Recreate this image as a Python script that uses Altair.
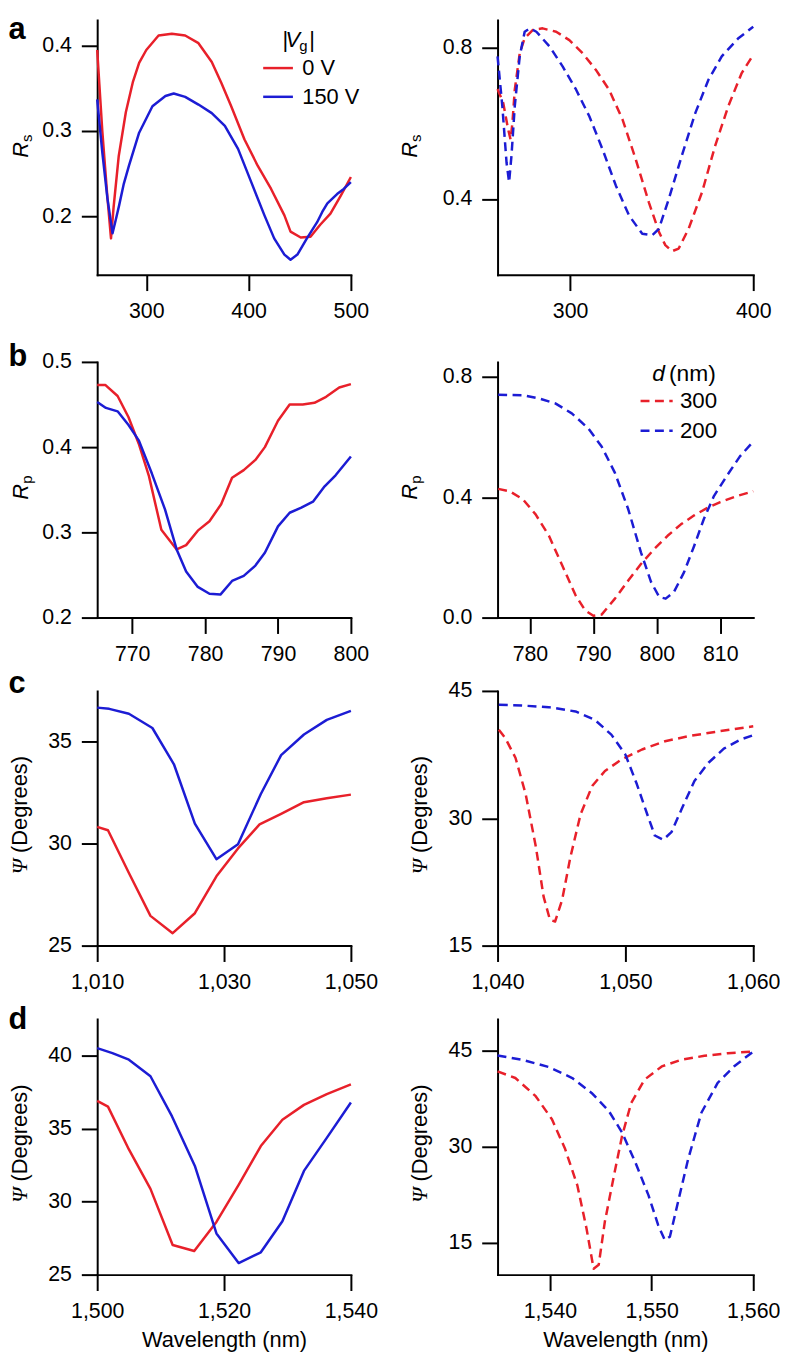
import altair as alt
import pandas as pd

RED = "#e8202a"
BLUE = "#1c1cd4"
SANS = "Liberation Sans"
SERIF = "Liberation Serif"

# ---------------- data ----------------
# a (left): measured R_s, |Vg| = 0 V and 150 V
a_exp_0_x = [252, 257, 262, 265.5, 268, 273, 280, 287, 293, 300, 312, 325, 338, 351, 364, 373.5, 383, 396, 409, 422, 435, 441, 451, 460.5, 470, 480, 490, 500]
a_exp_0_y = [0.395, 0.300, 0.222, 0.174, 0.210, 0.270, 0.322, 0.358, 0.380, 0.395, 0.412, 0.414, 0.412, 0.403, 0.381, 0.356, 0.329, 0.290, 0.259, 0.232, 0.201, 0.182, 0.175, 0.176, 0.190, 0.203, 0.224, 0.246]
a_exp_150_x = [252, 257, 262, 267, 270, 273.5, 278, 283, 293, 306, 318.7, 326.8, 338, 351, 364, 376.8, 389.7, 402.6, 415.5, 425, 435, 441, 447.7, 457, 467, 472, 477, 486.5, 493, 500]
a_exp_150_y = [0.337, 0.275, 0.221, 0.180, 0.195, 0.213, 0.238, 0.259, 0.298, 0.329, 0.341, 0.344, 0.340, 0.331, 0.321, 0.306, 0.279, 0.240, 0.201, 0.174, 0.155, 0.149, 0.155, 0.174, 0.193, 0.205, 0.215, 0.226, 0.232, 0.240]
# a (right): simulated R_s, d = 300 nm and 200 nm
a_sim_300_x = [260.4, 263.5, 266.2, 267.5, 268.5, 269.8, 272.5, 275.2, 279.7, 285, 292.4, 299.6, 306.9, 314, 321.3, 328.6, 335.8, 343, 348.5, 352, 355.7, 359.3, 364.7, 372, 379.2, 386.4, 393.7, 400]
a_sim_300_y = [0.690, 0.653, 0.583, 0.557, 0.600, 0.688, 0.784, 0.824, 0.846, 0.850, 0.841, 0.819, 0.784, 0.741, 0.688, 0.610, 0.505, 0.391, 0.313, 0.278, 0.262, 0.269, 0.321, 0.417, 0.540, 0.645, 0.732, 0.780]
a_sim_200_x = [260.4, 263, 265.3, 266.7, 268, 269.8, 272.5, 275.2, 278, 281.6, 288.8, 296, 303.3, 310.5, 317.7, 325, 332.2, 339.4, 344.8, 348.5, 353.9, 361, 368.4, 375.6, 382.8, 391.9, 400]
a_sim_200_y = [0.776, 0.645, 0.496, 0.444, 0.514, 0.645, 0.776, 0.841, 0.850, 0.841, 0.802, 0.749, 0.688, 0.618, 0.531, 0.435, 0.356, 0.308, 0.304, 0.321, 0.400, 0.514, 0.627, 0.715, 0.776, 0.824, 0.854]

# b (left): measured R_p
b_exp_0_x = [765.2, 766.3, 768, 769.5, 770.9, 772.3, 774, 776.1, 777.4, 779, 780.6, 782.2, 783.7, 785.3, 786.9, 788.2, 790, 791.6, 793.4, 795, 796.6, 798.4, 800]
b_exp_0_y = [0.473, 0.473, 0.460, 0.435, 0.404, 0.366, 0.303, 0.280, 0.285, 0.302, 0.313, 0.333, 0.364, 0.373, 0.385, 0.400, 0.431, 0.450, 0.450, 0.452, 0.459, 0.470, 0.474]
b_exp_150_x = [765.2, 766.4, 768, 769.5, 770.9, 772.7, 774.5, 776.1, 777.4, 779, 780.6, 782.1, 783.7, 785.3, 786.9, 788.2, 790, 791.6, 793.2, 794.8, 796.4, 797.9, 800]
b_exp_150_y = [0.453, 0.446, 0.442, 0.426, 0.408, 0.369, 0.327, 0.280, 0.254, 0.236, 0.228, 0.227, 0.243, 0.249, 0.261, 0.276, 0.307, 0.323, 0.329, 0.336, 0.354, 0.367, 0.389]
# b (right): simulated R_p
b_sim_300_x = [775, 776.8, 778.9, 780.9, 783, 785.1, 787.2, 788.7, 790, 791.3, 793.4, 795.5, 797.5, 799.6, 801.7, 803.8, 805.9, 808, 810, 812.6, 815.2]
b_sim_300_y = [0.428, 0.420, 0.393, 0.343, 0.272, 0.173, 0.074, 0.024, 0.006, 0.010, 0.063, 0.123, 0.178, 0.228, 0.272, 0.310, 0.340, 0.365, 0.384, 0.404, 0.420]
b_sim_200_x = [775, 778.9, 781.5, 784, 786.6, 789.2, 791.3, 793.4, 795.5, 797.5, 799.1, 800.4, 801.4, 802.7, 804.3, 805.9, 807.4, 809, 811, 813.1, 815.2]
b_sim_200_y = [0.741, 0.739, 0.728, 0.712, 0.679, 0.629, 0.569, 0.481, 0.360, 0.217, 0.118, 0.068, 0.063, 0.085, 0.151, 0.239, 0.327, 0.404, 0.470, 0.536, 0.585]

# c (left): measured Psi
c_exp_0_x = [1010, 1011.7, 1015, 1018.4, 1021.9, 1025.4, 1028.8, 1032.2, 1035.6, 1039, 1042.6, 1046.2, 1050]
c_exp_0_y = [30.83, 30.66, 28.56, 26.46, 25.61, 26.59, 28.40, 29.77, 30.95, 31.47, 32.04, 32.23, 32.41]
c_exp_150_x = [1010, 1011.9, 1015, 1018.7, 1022.1, 1025.4, 1028.8, 1032.2, 1035.8, 1039, 1042.6, 1046.2, 1050]
c_exp_150_y = [36.68, 36.62, 36.38, 35.68, 33.90, 30.99, 29.24, 29.98, 32.44, 34.35, 35.36, 36.08, 36.52]
# c (right): simulated Psi
c_sim_300_x = [1040.1, 1040.6, 1041.4, 1042.2, 1043, 1043.6, 1044.1, 1044.5, 1045.05, 1045.7, 1046.5, 1047.4, 1048.4, 1049.7, 1051.3, 1053.1, 1054.9, 1057, 1060]
c_sim_300_y = [40.44, 39.46, 37.13, 32.84, 26.61, 20.77, 18.04, 17.84, 20.38, 25.44, 30.50, 33.80, 35.57, 36.93, 38.10, 39.07, 39.66, 40.17, 40.83]
c_sim_200_x = [1040.1, 1041.9, 1044, 1046.1, 1047.6, 1048.9, 1050, 1050.9, 1051.7, 1052.3, 1052.95, 1053.6, 1054.4, 1055.4, 1056.5, 1057.7, 1059, 1060]
c_sim_200_y = [43.36, 43.28, 43.09, 42.58, 41.60, 39.85, 37.50, 34.00, 30.50, 27.97, 27.47, 28.36, 31.09, 34.40, 36.54, 38.20, 39.27, 39.78]

# d (left): measured Psi
d_exp_0_x = [1500, 1501.7, 1505, 1508.4, 1511.9, 1515.3, 1518.8, 1522.3, 1525.8, 1529.2, 1532.6, 1536.2, 1540]
d_exp_0_y = [36.89, 36.50, 33.57, 30.87, 27.03, 26.62, 28.61, 31.14, 33.80, 35.60, 36.62, 37.36, 38.02]
d_exp_150_x = [1500, 1502.4, 1505, 1508.4, 1511.8, 1515.4, 1518.8, 1522.3, 1525.8, 1529.2, 1532.6, 1536.2, 1540]
d_exp_150_y = [40.50, 40.16, 39.71, 38.58, 35.83, 32.44, 27.82, 25.79, 26.53, 28.65, 32.10, 34.36, 36.78]
# d (right): simulated Psi
d_sim_300_x = [1534.85, 1536.6, 1538.6, 1540.2, 1541.5, 1542.7, 1543.6, 1544.3, 1544.8, 1545.4, 1546.3, 1547.1, 1548, 1549.3, 1551, 1552.9, 1555.2, 1557.5, 1560]
d_sim_300_y = [41.80, 40.76, 37.92, 34.30, 29.64, 23.95, 17.22, 10.91, 11.53, 18.26, 25.50, 31.71, 36.88, 40.50, 42.57, 43.60, 44.23, 44.64, 44.90]
d_sim_200_x = [1534.85, 1537.3, 1539.9, 1542.2, 1544.1, 1545.8, 1547.1, 1548.4, 1549.7, 1550.65, 1551.3, 1551.8, 1552.6, 1553.6, 1554.9, 1556.5, 1558.1, 1560]
d_sim_200_y = [44.28, 43.60, 42.47, 40.76, 38.43, 35.59, 32.23, 27.57, 22.40, 17.74, 15.41, 15.93, 21.36, 28.09, 35.33, 39.99, 42.57, 44.90]

EXP_NAMES = ["0 V", "150 V"]
SIM_NAMES = ["300", "200"]


def frame(x1, y1, x2, y2, names):
    return pd.DataFrame({
        "wl": list(x1) + list(x2),
        "val": list(y1) + list(y2),
        "series": [names[0]] * len(x1) + [names[1]] * len(x2),
    })


ONE = pd.DataFrame({"k": [0]})


def txt(s, x, y, size=22, font=SANS, style="normal", weight="normal",
        angle=0, align="left", baseline="alphabetic"):
    kw = dict(text=s, fontSize=size, font=font, fontStyle=style,
              fontWeight=weight, align=align, baseline=baseline, color="black")
    if angle:
        kw["angle"] = angle
    return alt.Chart(ONE).mark_text(**kw).encode(x=alt.value(x), y=alt.value(y))


def r_title(sub, x, top):
    return [txt("R", x, top + 139, style="italic", angle=270),
            txt(sub, x + 4, top + 123, size=15, angle=270)]


def psi_title(x, h, top=0):
    mid = top + h / 2
    return [txt("(Degrees)", x, mid + 35, angle=270),
            txt("Ψ", x, mid + 41, font=SERIF, style="italic", angle=270, align="right")]


def letter(s, y):
    return txt(s, -89.5, y, size=31, weight="bold")


def panel(df, names, sim, xdom, ydom, xticks, yticks, yfmt, xfmt, w, h,
          top=0, legend=None, xtitle=False, overlays=()):
    mark = dict(strokeWidth=2.5, strokeJoin="round")
    if sim:
        mark["strokeDash"] = [9, 5.5]
    yscale = dict(domain=ydom, nice=False, zero=False)
    if top:
        yscale["range"] = [h + top, top]
    xaxis = alt.Axis(values=xticks, format=xfmt,
                     title="Wavelength (nm)" if xtitle else None)
    line = alt.Chart(df).mark_line(**mark).encode(
        x=alt.X("wl:Q", scale=alt.Scale(domain=xdom, nice=False, zero=False), axis=xaxis),
        y=alt.Y("val:Q", scale=alt.Scale(**yscale),
                axis=alt.Axis(values=yticks, format=yfmt, title=None)),
        color=alt.Color("series:N", scale=alt.Scale(domain=names, range=[RED, BLUE]),
                        legend=legend),
    )
    return alt.layer(line, *overlays).properties(width=w, height=h + top)


LW, RW = 256, 258

leg_exp = alt.Legend(orient="none", legendX=166, legendY=32, title=None,
                     direction="vertical", symbolType="stroke", symbolSize=900,
                     symbolStrokeWidth=2.5, labelFont=SANS, labelFontSize=22,
                     labelColor="black", rowPadding=1, labelOffset=8, padding=0)
leg_sim = alt.Legend(orient="none", legendX=143, legendY=36, title=None,
                     direction="vertical", symbolType="stroke", symbolSize=1050,
                     symbolStrokeWidth=2.5, symbolDash=[9, 5.5], labelFont=SANS,
                     labelFontSize=22.5, labelColor="black", rowPadding=1,
                     labelOffset=6, padding=0)

pa1 = panel(frame(a_exp_0_x, a_exp_0_y, a_exp_150_x, a_exp_150_y, EXP_NAMES), EXP_NAMES, False,
            [252, 500], [0.1314, 0.4302], [300, 400, 500], [0.2, 0.3, 0.4], ".1f", "d", LW, 257,
            legend=leg_exp,
            overlays=[letter("a", 19.5)] + r_title("s", -70, 0) + [
                txt("|", 187, 27), txt("V", 190, 27, style="italic"),
                txt("g", 204, 31, size=15), txt("|", 214, 27)])
pa2 = panel(frame(a_sim_300_x, a_sim_300_y, a_sim_200_x, a_sim_200_y, SIM_NAMES), SIM_NAMES, True,
            [260.4, 400], [0.2, 0.872], [300, 400], [0.4, 0.8], ".1f", "d", RW, 257,
            overlays=r_title("s", -81, 0))

pb1 = panel(frame(b_exp_0_x, b_exp_0_y, b_exp_150_x, b_exp_150_y, EXP_NAMES), EXP_NAMES, False,
            [765.2, 800], [0.2, 0.5], [770, 780, 790, 800], [0.2, 0.3, 0.4, 0.5], ".1f", "d", LW, 258,
            top=14, overlays=[letter("b", 18)] + r_title("p", -70, 14))
pb2 = panel(frame(b_sim_300_x, b_sim_300_y, b_sim_200_x, b_sim_200_y, SIM_NAMES), SIM_NAMES, True,
            [774.9, 815.2], [0.0, 0.85], [780, 790, 800, 810], [0.0, 0.4, 0.8], ".1f", "d", RW, 258,
            top=14, legend=leg_sim,
            overlays=r_title("p", -81, 14) + [
                txt("d", 156, 33.3, size=23, style="italic"), txt("(nm)", 173, 33.3, size=23)])

pc1 = panel(frame(c_exp_0_x, c_exp_0_y, c_exp_150_x, c_exp_150_y, EXP_NAMES), EXP_NAMES, False,
            [1010, 1050], [25, 37.5], [1010, 1030, 1050], [25, 30, 35], "d", ",d", LW, 257,
            overlays=[letter("c", 2.4)] + psi_title(-71, 257))
pc2 = panel(frame(c_sim_300_x, c_sim_300_y, c_sim_200_x, c_sim_200_y, SIM_NAMES), SIM_NAMES, True,
            [1040, 1060], [15, 45], [1040, 1050, 1060], [15, 30, 45], "d", ",d", RW, 257,
            overlays=psi_title(-71, 257))

pd1 = panel(frame(d_exp_0_x, d_exp_0_y, d_exp_150_x, d_exp_150_y, EXP_NAMES), EXP_NAMES, False,
            [1500, 1540], [25, 42.5], [1500, 1520, 1540], [25, 30, 35, 40], "d", ",d", LW, 258,
            xtitle=True, overlays=[letter("d", 10)] + psi_title(-71, 258))
pd2 = panel(frame(d_sim_300_x, d_sim_300_y, d_sim_200_x, d_sim_200_y, SIM_NAMES), SIM_NAMES, True,
            [1534.85, 1560], [10, 50], [1540, 1550, 1560], [15, 30, 45], "d", ",d", RW, 258,
            xtitle=True, overlays=psi_title(-71, 258))

chart = alt.concat(
    pa1, pa2, pb1, pb2, pc1, pc2, pd1, pd2,
    columns=2, spacing={"row": 74, "column": 148}, bounds="flush", align="each",
    padding=0, background="white",
).resolve_scale(color="independent").configure_view(stroke=None).configure_axis(
    domainColor="black", domainWidth=2, domainCap="square",
    tickColor="black", tickWidth=2, tickSize=16,
    labelPadding=10, labelFont=SANS, labelFontSize=21.5, labelColor="black",
    labelFlush=False, labelOverlap=False, grid=False,
    titleFont=SANS, titleFontSize=22, titleFontWeight="normal", titleColor="black",
    titlePadding=8,
)

chart.save("out.html", embed_options={"renderer": "svg", "actions": False})
